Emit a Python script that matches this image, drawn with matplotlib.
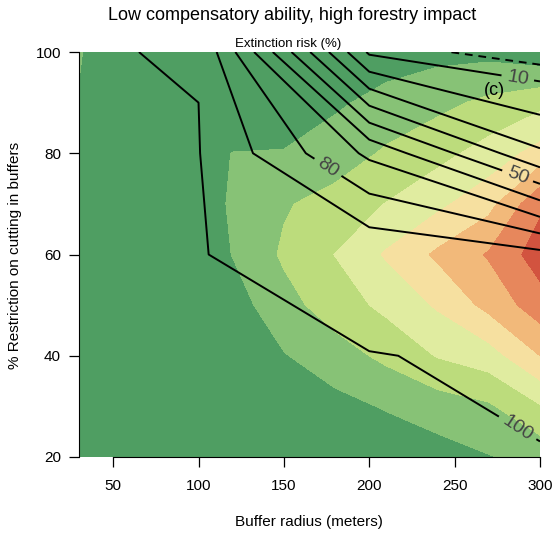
import numpy as np
import matplotlib
matplotlib.use("Agg")
import matplotlib.pyplot as plt
from matplotlib.colors import ListedColormap, BoundaryNorm

plt.rcParams['font.family'] = ['Liberation Sans', 'DejaVu Sans']

# ---- shaded surface (class value) ----
field_x = [30, 33, 60, 90, 120, 150, 180, 210, 240, 270, 300]
field_y = [20, 30, 40, 50, 60, 70, 80, 90, 100]
field_z = [
    [-2.0, -2.0, -1.0, -1.0, -0.5, -0.3, 0.00, 0.30, 0.60, 0.95, 1.30],   # y=20
    [-2.0, -2.0, -1.0, -0.8, 0.00, 0.30, 0.69, 1.08, 1.47, 1.86, 2.92],   # y=30
    [-2.0, -2.0, -1.0, -0.5, 0.33, 0.94, 1.55, 2.23, 3.06, 3.55, 5.00],   # y=40
    [-2.0, -2.0, -1.0, -0.3, 0.55, 1.64, 2.49, 3.25, 4.12, 5.30, 6.55],   # y=50
    [-2.0, -2.0, -1.0, 0.00, 1.03, 2.15, 3.02, 4.11, 5.18, 6.10, 7.50],   # y=60
    [-2.0, -2.0, -1.0, 0.41, 1.09, 1.90, 2.39, 3.03, 3.76, 4.67, 6.80],   # y=70
    [-2.0, -2.0, -1.0, 0.50, 1.02, 1.05, 1.45, 2.14, 2.68, 3.39, 4.38],   # y=80
    [0.6, -1.0, -1.0, -0.2, 0.20, 0.43, 0.86, 1.30, 1.73, 2.22, 2.70],    # y=90
    [1.5, 0.8, -1.0, -0.3, 0.00, 0.10, 0.30, 0.55, 0.69, 0.70, 0.33],     # y=100
]
field_levels = [-10, 1, 2, 3, 4, 5, 6, 7, 10]
field_colors = ['#4f9e62', '#87c276', '#bcdc7c', '#e0eca0',
                '#f6e0a0', '#f2b97a', '#e7875c', '#d2533f']

# ---- extinction risk (%) contour grid ----
risk_x = [0, 100, 200, 300]
risk_y = [20, 40, 60, 80, 100]
risk_z = [
    [101.0, 101.0, 100.5, 100.08],
    [101.0, 100.8, 100.09, 99.56],
    [101.0, 100.12, 98.1, 92.75],
    [101.0, 100.3, 68.0, 31.5],
    [100.56, 99.7, 8.4, 1.2],
]
plain_levels = [20, 30, 40, 60, 70, 90]
label_levels = [10, 50, 80, 100]
dashed_levels = [5]
label_pos = [(287, 94.9), (287, 75.6), (176, 77.3), (287, 25.8)]

x_ticks = [50, 100, 150, 200, 250, 300]
y_ticks = [20, 40, 60, 80, 100]

W, H = 554, 537
fig = plt.figure(figsize=(W / 100, H / 100), dpi=100)
ax = fig.add_axes([79 / W, 1 - 457 / H, (540 - 79) / W, (457 - 52) / H])

cmap = ListedColormap(field_colors)
norm = BoundaryNorm(field_levels, cmap.N)
ax.contourf(field_x, field_y, np.array(field_z), levels=field_levels,
            cmap=cmap, norm=norm, antialiased=False)

Z = np.array(risk_z)
ax.contour(risk_x, risk_y, Z, levels=plain_levels, colors='black', linewidths=1.4)
cs_lab = ax.contour(risk_x, risk_y, Z, levels=label_levels, colors='black',
                    linewidths=1.4)
ax.contour(risk_x, risk_y, Z, levels=dashed_levels,
           colors='black', linewidths=1.4, linestyles=[(0, (4, 3))])
ax.clabel(cs_lab, manual=label_pos, inline=True,
          inline_spacing=4, fontsize=14, colors='#444444', fmt='%d')

ax.set_xlim(30, 300)
ax.set_ylim(20, 100)
for s in ['top', 'right']:
    ax.spines[s].set_visible(False)
ax.spines['bottom'].set_bounds(50, 300)
ax.spines['left'].set_bounds(20, 100)
ax.set_xticks(x_ticks)
ax.set_yticks(y_ticks)
ax.tick_params(direction='out', length=7, width=0.9, labelsize=11, colors='black')
ax.tick_params(axis='x', pad=9)
ax.tick_params(axis='y', pad=6)

ax.text(273.5, 92.3, '(c)', fontsize=13, ha='center', va='center', color='black')

fig.text(292 / W, 1 - 16 / H, 'Low compensatory ability, high forestry impact',
         ha='center', va='center', fontsize=13)
fig.text(288 / W, 1 - 44 / H, 'Extinction risk (%)', ha='center', va='center',
         fontsize=9.5)
fig.text(309 / W, 1 - 522 / H, 'Buffer radius (meters)', ha='center', va='center',
         fontsize=11)
fig.text(15 / W, 1 - 255 / H, '% Restriction on cutting in buffers', ha='center',
         va='center', rotation=90, fontsize=11)

fig.savefig('out.png', dpi=100)
